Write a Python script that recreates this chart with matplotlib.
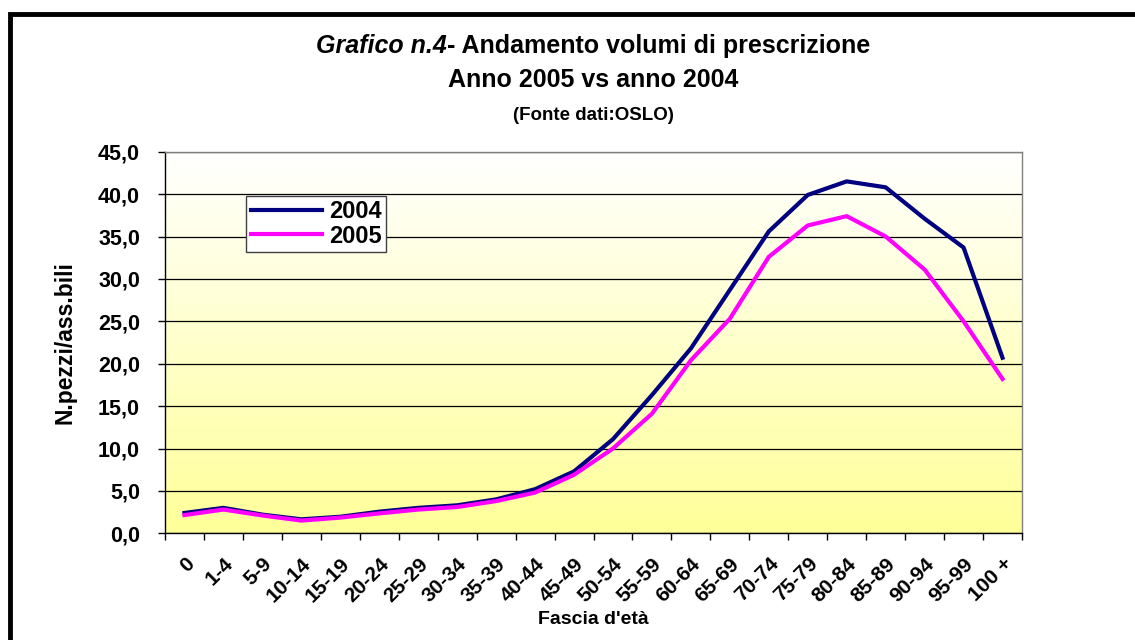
import numpy as np
import matplotlib
matplotlib.use('Agg')
import matplotlib.pyplot as plt
from matplotlib.patches import Rectangle
from matplotlib.ticker import FuncFormatter

plt.rcParams['font.family'] = ['Liberation Sans', 'DejaVu Sans']

# Data
fasce = ['0', '1-4', '5-9', '10-14', '15-19', '20-24', '25-29', '30-34',
         '35-39', '40-44', '45-49', '50-54', '55-59', '60-64', '65-69',
         '70-74', '75-79', '80-84', '85-89', '90-94', '95-99', '100 +']
anno_2004 = [2.4, 3.0, 2.2, 1.65, 1.95, 2.55, 3.0, 3.3, 4.0, 5.2, 7.3, 11.1,
             16.3, 21.8, 28.7, 35.6, 39.9, 41.5, 40.8, 37.1, 33.7, 20.7]
anno_2005 = [2.15, 2.8, 2.1, 1.5, 1.85, 2.35, 2.8, 3.1, 3.8, 4.8, 6.9, 10.0,
             14.1, 20.4, 25.3, 32.6, 36.3, 37.4, 35.0, 31.1, 25.0, 18.2]

fig = plt.figure(figsize=(11.35, 6.4), dpi=100)

# outer frame (cut off at right and bottom, as in the original)
fig.patches.append(Rectangle((9.5 / 1135, -0.1), 1.2, 1 - 13.5 / 640 + 0.1,
                             transform=fig.transFigure, fill=False,
                             edgecolor='black', linewidth=3.5, zorder=0))

ax = fig.add_axes([165 / 1135, 1 - 533.3 / 640, (1022 - 165) / 1135, (533.3 - 151.7) / 640])

x = np.arange(len(fasce))

# gradient background: white at top -> pale yellow at bottom
grad = np.linspace(0, 1, 256).reshape(-1, 1)
top = np.array([1.0, 1.0, 1.0])
bottom = np.array([1.0, 1.0, 0.6])
img = top + (bottom - top) * grad[..., None]
ax.imshow(img, extent=[-0.5, len(fasce) - 0.5, 0, 45], origin='upper',
          aspect='auto', zorder=0)

ax.set_xlim(-0.5, len(fasce) - 0.5)
ax.set_ylim(0, 45)

ax.set_yticks(np.arange(0, 46, 5))
ax.yaxis.set_major_formatter(FuncFormatter(lambda v, p: f'{v:.1f}'.replace('.', ',')))
ax.yaxis.grid(True, color='black', linewidth=0.9)
ax.set_axisbelow(True)

# ticks at category borders, labels at category centres
ax.set_xticks(np.arange(-0.5, len(fasce), 1))
ax.set_xticklabels([])
ax.set_xticks(x, minor=True)
ax.set_xticklabels(fasce, minor=True, rotation=45, ha='right', va='top',
                   rotation_mode='anchor', fontsize=15, fontweight='bold')
ax.tick_params(axis='x', which='minor', length=0, pad=15)
ax.tick_params(axis='x', which='major', length=5, width=1, color='black')
ax.tick_params(axis='y', length=5, width=1, labelsize=15.5, pad=13)
for lab in ax.get_yticklabels():
    lab.set_fontweight('bold')

ax.plot(x, anno_2004, color='#000080', linewidth=3, label='2004', zorder=3)
ax.plot(x, anno_2005, color='#FF00FF', linewidth=3, label='2005', zorder=3)

ax.spines['left'].set_color('black')
ax.spines['bottom'].set_color('black')
ax.spines['top'].set_color('#808080')
ax.spines['right'].set_color('#808080')
for s in ax.spines.values():
    s.set_linewidth(1)

ax.set_xlabel("Fascia d'età", fontsize=14, fontweight='bold', va='center')
ax.xaxis.set_label_coords(0.5, -(620 - 533.3) / 381.6)
ax.set_ylabel('N.pezzi/ass.bili', fontsize=16.5, fontweight='bold', va='center')
ax.yaxis.set_label_coords((65 - 165) / 857, 0.5)

leg = ax.legend(loc='upper left', bbox_to_anchor=(81 / 857, 1 - 44 / 381.6),
                prop={'size': 17, 'weight': 'bold'}, frameon=True, fancybox=False,
                edgecolor='#404040', framealpha=1, handlelength=3.0,
                handletextpad=0.3, borderpad=0.2, labelspacing=0.05,
                borderaxespad=0)
leg.get_frame().set_linewidth(1)

# title: bold italic part followed by bold part, centred together
cx = (165 + 1022) / 2 / 1135
y1 = 1 - 46 / 640
ta = fig.text(0, y1, 'Grafico n.4', ha='left', va='center', fontsize=18,
              style='italic', fontweight='bold')
tb = fig.text(0, y1, '- Andamento volumi di prescrizione', ha='left', va='center',
              fontsize=18, fontweight='bold')
fig.canvas.draw()
wa = ta.get_window_extent().width / fig.bbox.width
wb = tb.get_window_extent().width / fig.bbox.width
x0 = cx - (wa + wb) / 2
ta.set_x(x0)
tb.set_x(x0 + wa)
fig.text(cx, 1 - 80 / 640, 'Anno 2005 vs anno 2004', ha='center', va='center',
         fontsize=18, fontweight='bold')
fig.text(cx, 1 - 115 / 640, '(Fonte dati:OSLO)', ha='center', va='center',
         fontsize=13.5, fontweight='bold')

fig.savefig('out.png', dpi=100)
